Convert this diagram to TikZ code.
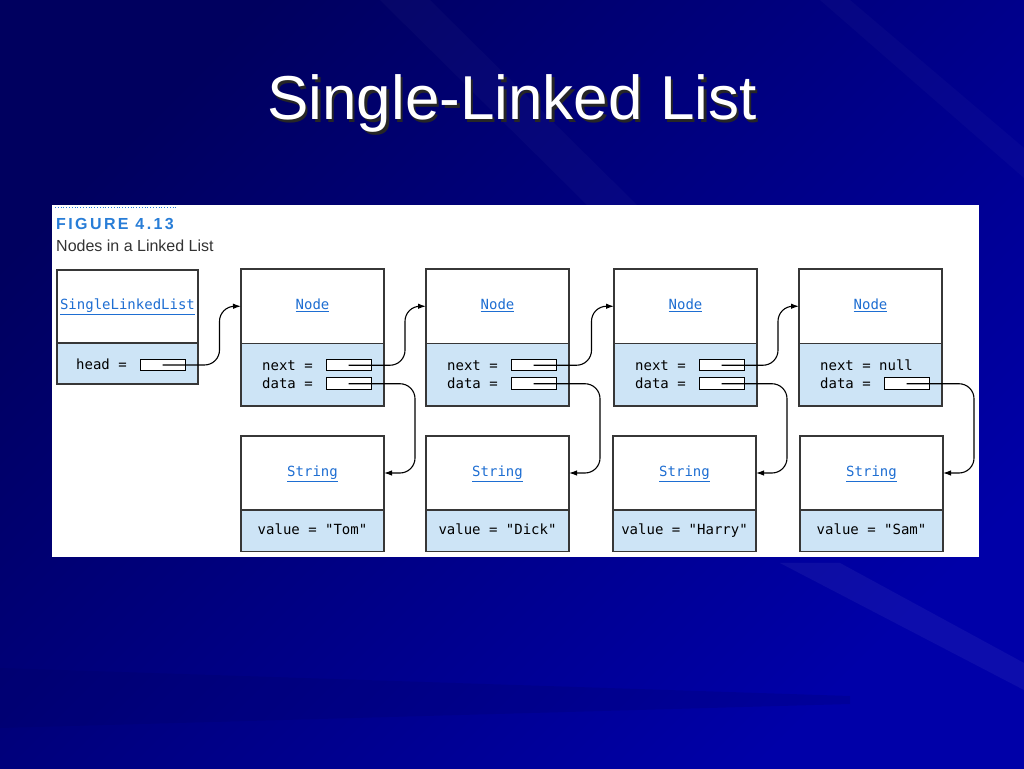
\documentclass[tikz,border=0pt]{standalone}
\usepackage{fontspec}
\setmainfont{Liberation Sans}
\setmonofont{DejaVu Sans Mono}
\newfontfamily\figfont[LetterSpace=15]{Liberation Sans}
\usetikzlibrary{arrows.meta, positioning, calc}
\definecolor{bgdark}{RGB}{0,0,95}
\definecolor{bgblue}{RGB}{0,0,168}
\definecolor{linkblue}{RGB}{30,110,210}
\definecolor{figblue}{RGB}{40,125,215}
\definecolor{fieldblue}{RGB}{205,228,246}
\definecolor{boxline}{RGB}{55,55,55}
\newcommand{\cname}[1]{\textcolor{linkblue}{\underline{#1}}}

\tikzset{
  box/.style={draw=boxline, line width=1.1pt, inner sep=0pt, outer sep=0pt,
    minimum width=143pt, text height=10pt, text depth=3pt,
    font=\ttfamily\fontsize{14}{16}\selectfont},
  namebox/.style={box, fill=white, minimum height=74.5pt},
  fieldbox/.style={box, fill=fieldblue, minimum height=62.5pt},
  ptr/.style={draw=black, fill=white, line width=1pt, inner sep=0pt, outer sep=0pt,
    minimum width=45pt, minimum height=11.5pt},
  fld/.style={font=\ttfamily\fontsize{14}{16}\selectfont, inner sep=0pt, anchor=base west},
  link/.style={->, line width=1.1pt, rounded corners=15pt}
}

\begin{document}
\begin{tikzpicture}[x=1pt, y=1pt, >={Latex[length=8pt,width=5.5pt]}]
  \useasboundingbox (0,0) rectangle (1024,768);
  % slide background
  \shade[top color=bgdark, bottom color=bgblue, shading angle=45] (0,0) rectangle (1024,768);
  \fill[white, opacity=0.05] (780,205) -- (840,205) -- (1024,105) -- (1024,78) -- cycle;
  \fill[bgdark, opacity=0.2] (0,100) -- (850,72) -- (850,64) -- (0,40) -- cycle;
  \fill[white, opacity=0.025] (380,768) -- (430,768) -- (640,560) -- (590,560) -- cycle;
  \fill[white, opacity=0.025] (820,768) -- (850,768) -- (1024,620) -- (1024,590) -- cycle;

  % title
  \node[anchor=base, text=black!85, font=\fontsize{62}{70}\selectfont] at (514.5,645.5) {Single-Linked List};
  \node[anchor=base, text=white, font=\fontsize{62}{70}\selectfont] (title) at (512,648) {Single-Linked List};

  % figure panel
  \fill[white] (52,211) rectangle (979,563);
  \draw[figblue, dotted, line width=0.8pt] (55,561) -- (176,561);
  \node[anchor=base west, inner sep=0pt, text=figblue, font=\figfont\bfseries\fontsize{16}{18}\selectfont] (fig) at (56,538) {FIGURE 4.13};
  \node[anchor=base west, inner sep=0pt, text=black!80, font=\fontsize{16}{18}\selectfont] (cap) at (56,516) {Nodes in a Linked List};

  % list object
  \node[namebox, minimum width=141pt, minimum height=73pt, anchor=north west] (sll) at (57,498) {\cname{SingleLinkedList}};
  \node[fieldbox, minimum width=141pt, minimum height=41pt, below=0pt of sll] (sllf) {};
  \node[fld] (hd) at ($(sllf.west)+(19,-6.5)$) {head =};
  \node[ptr, anchor=west] (hp) at ($(sllf.west)+(83,-1.5)$) {};

  % list nodes
  \foreach \i/\x in {1/241, 2/426, 3/614, 4/799} {
    \node[namebox, anchor=north west] (n\i) at (\x,499) {\cname{Node}};
    \node[fieldbox, below=0pt of n\i] (f\i) {};
    \node[fld] (nx\i) at ($(f\i.west)+(21,4.5)$) {\ifnum\i<4 next =\else next = null\fi};
    \node[fld] (dt\i) at ($(f\i.west)+(21,-13.5)$) {data =};
    \node[ptr, anchor=west] (dp\i) at ($(f\i.west)+(85,-9)$) {};
  }
  \foreach \i in {1,2,3}
    \node[ptr, anchor=west] (np\i) at ($(f\i.west)+(85,9.5)$) {};

  % string objects
  \foreach \i/\x/\w in {1/241/Tom, 2/426/Dick, 3/613/Harry, 4/800/Sam} {
    \node[namebox, minimum height=74pt, anchor=north west] (s\i) at (\x,332) {\cname{String}};
    \node[fieldbox, minimum height=41.5pt, below=0pt of s\i] (v\i) {value = "\w"};
  }

  % references
  \draw[link] (hp.center) -| ($(sll.east)!0.5!(n1.west)$) -- (n1.west);
  \foreach \i/\j in {1/2, 2/3, 3/4}
    \draw[link] (np\i.center) -| ($(n\i.east)!0.5!(n\j.west)$) -- (n\j.west);
  \foreach \i in {1,...,4}
    \draw[link] (dp\i.center) -| ($(s\i.east)+(31,0)$) -- (s\i.east);
\end{tikzpicture}
\end{document}
